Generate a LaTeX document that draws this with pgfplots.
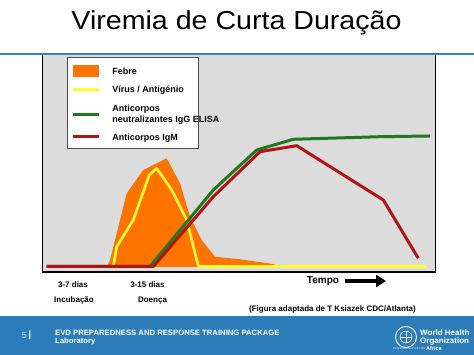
\documentclass[border=0pt]{standalone}
\usepackage{fontspec}
\setmainfont{Liberation Sans}
\usepackage{pgfplots}
\pgfplotsset{compat=1.18}
\usetikzlibrary{arrows.meta}
\definecolor{plotbg}{HTML}{DCDCDC}
\definecolor{fever}{HTML}{FF7300}
\definecolor{virus}{HTML}{FFFF30}
\definecolor{igg}{HTML}{1F7A1F}
\definecolor{igm}{HTML}{B01515}
\definecolor{footer}{HTML}{2B7CB8}
\definecolor{topline}{HTML}{3B82AE}
\definecolor{five}{HTML}{8CCBEE}
\pgfplotsset{
  linelegend/.style={legend image code/.code={\draw[##1] (0pt,0pt) -- (26pt,0pt);\path (36pt,0pt);}},
  boxlegend/.style={legend image code/.code={\fill[fever] (0pt,-6pt) rectangle (26pt,6pt);\path (36pt,0pt);}},
}
\begin{document}
\begin{tikzpicture}[x=1pt,y=1pt]
\path[use as bounding box] (0,0) rectangle (474,355);
% footer band
\fill[footer] (0,0) rectangle (474,38.5);
\begin{axis}[
  at={(42.5,83)}, anchor=south west,
  width=393pt, height=218pt, scale only axis,
  xmin=0, xmax=393, ymin=0, ymax=218,
  axis background/.style={fill=plotbg},
  axis line style={line width=1.3pt},
  xtick=\empty, ytick=\empty,
  legend cell align=left,
  legend style={at={(axis cs:24.5,215)}, anchor=north west,
    fill=white, draw=black!70, line width=0.6pt,
    font=\fontsize{9}{10}\selectfont\bfseries,
    inner xsep=4pt, inner ysep=5pt, row sep=0pt,
    nodes={inner sep=2pt, text depth=}},
]
\addplot[fill=fever, draw=none, boxlegend]
  coordinates {(64.5,5) (67.5,12) (84.2,78.7) (100.8,102) (124.2,113.7)
    (137.5,88.7) (147.5,55.3) (159.2,32) (172.5,15.3) (197.5,12.7)
    (230.5,8) (237.5,5) (64.5,5)};
\addlegendentry{\raisebox{0pt}[10.3pt][3.7pt]{\makebox[80pt][l]{Febre}}}
\addplot[virus, line width=2.6pt, line join=round, linelegend]
  coordinates {(70.8,5.5) (74.2,25.3) (90.8,52) (106.8,97) (114.2,103.7)
    (129.2,82) (144.2,52) (155.8,6) (160,5.5) (383.5,5.5)};
\addlegendentry{\raisebox{0pt}[10.3pt][3.7pt]{\makebox[80pt][l]{Vírus / Antigénio}}}
\addplot[igg, line width=3pt, line join=round, linelegend]
  coordinates {(4,5.5) (107.5,5.5) (170.8,82) (214.2,122) (250.8,132.7)
    (337.5,135.3) (387.5,136)};
\addlegendentry{\raisebox{0pt}[17.3pt][10.7pt]{\begin{tabular}{@{}l@{}}Anticorpos\\[1pt]\makebox[80pt][l]{neutralizantes IgG ELISA}\end{tabular}}}
\addplot[igm, line width=3pt, line join=round, linelegend]
  coordinates {(4,5.5) (110.8,5.5) (170.8,75.3) (217.5,120.3) (254.2,126.3)
    (340.8,72) (375.8,13.7)};
\addlegendentry{\raisebox{0pt}[7.8pt][1.2pt]{\makebox[80pt][l]{Anticorpos IgM}}}
\end{axis}
% top rule
\draw[topline, line width=1.4pt] (0,301) -- (474,301);
% title
\node[anchor=base, font=\fontsize{26}{28}\selectfont, xscale=1.1] at (236.5,325) {Viremia de Curta Duração};
% labels under the chart
\begin{scope}[every node/.style={font=\fontsize{8}{9}\selectfont\bfseries}]
\node at (73,70) {3-7 dias};
\node at (147.5,70) {3-15 dias};
\node at (74,54.3) {Incubação};
\node at (152.5,54.3) {Doença};
\node at (332.5,45.7) {(Figura adaptada de T Ksiazek CDC/Atlanta)};
\end{scope}
\node[font=\fontsize{10}{11}\selectfont\bfseries] at (323,74) {Tempo};
\draw[line width=4pt, -{Triangle[length=10pt,width=12pt]}] (345,74) -- (386,74);
% footer text
\node[anchor=west, text=five, font=\fontsize{9}{10}\selectfont\bfseries] at (18,20) {5};
\node[anchor=west, text=white, font=\fontsize{9}{10}\selectfont\bfseries] at (25,20) {|};
\node[anchor=west, text=white, font=\fontsize{7.7}{8}\selectfont\bfseries, inner sep=0pt] at (55,22) {EVD PREPAREDNESS AND RESPONSE TRAINING PACKAGE};
\node[anchor=west, text=white, font=\fontsize{7.7}{8}\selectfont\bfseries, inner sep=0pt] at (55,13.5) {Laboratory};
% WHO emblem (simplified) and name
\draw[white, line width=0.9pt] (406,18) circle (10.5);
\draw[white, line width=0.5pt] (406,18) circle (6);
\draw[white, line width=0.5pt] (400,18) -- (412,18) (406,12) -- (406,24);
\node[anchor=west, text=white, font=\fontsize{8}{7.5}\selectfont\bfseries, align=left, inner sep=0pt] at (420,17.5) {World Health\\Organization};
\node[anchor=west, text=white!80!footer, font=\fontsize{2.8}{3}\selectfont, inner sep=0pt] at (393,6) {REGIONAL OFFICE FOR};
\node[anchor=west, text=white, font=\fontsize{5.5}{6}\selectfont\bfseries, inner sep=0pt] at (426,6) {Africa};
\end{tikzpicture}
\end{document}
